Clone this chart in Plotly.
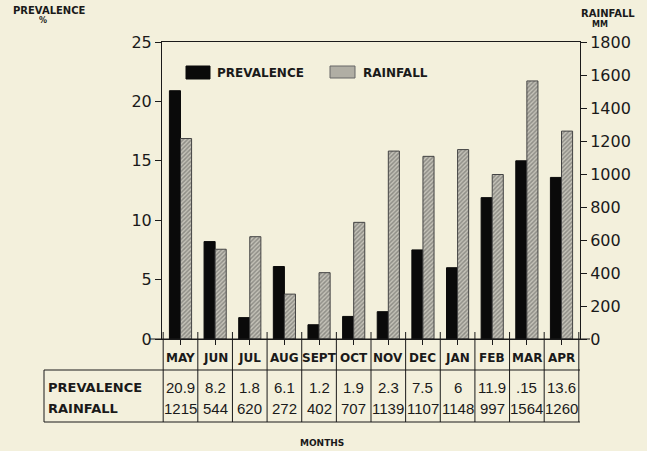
import plotly.graph_objects as go

months = ["MAY", "JUN", "JUL", "AUG", "SEPT", "OCT", "NOV", "DEC", "JAN", "FEB", "MAR", "APR"]
prevalence = [20.9, 8.2, 1.8, 6.1, 1.2, 1.9, 2.3, 7.5, 6, 11.9, 15, 13.6]
rainfall = [1215, 544, 620, 272, 402, 707, 1139, 1107, 1148, 997, 1564, 1260]
prev_labels = ["20.9", "8.2", "1.8", "6.1", "1.2", "1.9", "2.3", "7.5", "6", "11.9", ".15", "13.6"]
rain_labels = [str(v) for v in rainfall]
prev_ticks = [0, 5, 10, 15, 20, 25]
rain_ticks = [0, 200, 400, 600, 800, 1000, 1200, 1400, 1600, 1800]

W, H = 647, 451
L, R, T, B = 162, 580, 42, 339
BG = "#f3f0dc"
INK = "#1a1a1a"
FONT = "DejaVu Sans"


def py(p):  # pixel y -> paper y
    return (B - p) / (B - T)


def px(p):  # pixel x -> paper x
    return (p - L) / (R - L)


fig = go.Figure()
fig.add_trace(go.Bar(
    x=months, y=prevalence, name="PREVALENCE",
    marker=dict(color="#0a0a0a", line=dict(color="#0a0a0a", width=1)),
    offsetgroup="a", yaxis="y", showlegend=False,
))
fig.add_trace(go.Bar(
    x=months, y=rainfall, name="RAINFALL",
    marker=dict(color="#c4c2b8", line=dict(color="#444", width=1),
                pattern=dict(shape="/", fgcolor="#5a5a56", size=3, solidity=0.5)),
    offsetgroup="b", yaxis="y2", showlegend=False,
))

shapes = []
line = dict(color=INK, width=1)
# table grid
for i in range(len(months) + 1):
    shapes.append(dict(type="line", xref="x", yref="paper", x0=i - 0.5, x1=i - 0.5,
                       y0=py(332), y1=py(422), line=line))
for yy in (370, 422):
    shapes.append(dict(type="line", xref="paper", yref="paper", x0=px(44), x1=1,
                       y0=py(yy), y1=py(yy), line=line))
shapes.append(dict(type="line", xref="paper", yref="paper", x0=px(44), x1=px(44),
                   y0=py(370), y1=py(422), line=line))
# extended zero line
shapes.append(dict(type="line", xref="paper", yref="paper", x0=px(150), x1=px(590),
                   y0=0, y1=0, line=line))
# legend swatches
shapes.append(dict(type="rect", xref="paper", yref="paper", x0=px(186), x1=px(210),
                   y0=py(79), y1=py(66), fillcolor="#0a0a0a", line=dict(color="#0a0a0a", width=1)))
shapes.append(dict(type="rect", xref="paper", yref="paper", x0=px(330), x1=px(355),
                   y0=py(78), y1=py(66), fillcolor="#b0aea4", line=dict(color="#666", width=1)))

ann = []


def text(x, y, s, size, family=FONT, xanchor="center", xref="paper"):
    ann.append(dict(x=x, y=y, xref=xref, yref="paper", text=s, showarrow=False,
                    xanchor=xanchor, yanchor="middle",
                    font=dict(family=family, size=size, color=INK)))


for i, m in enumerate(months):
    text(m, py(358), "<b>%s</b>" % m, 12, xref="x")
    text(m, py(387), prev_labels[i], 15, family="Liberation Sans", xref="x")
    text(m, py(408), rain_labels[i], 15, family="Liberation Sans", xref="x")
text(px(46), py(387), "<b>PREVALENCE</b>", 13, xanchor="left")
text(px(46), py(408), "<b>RAINFALL</b>", 13, xanchor="left")
text(px(322), py(443), "<b>MONTHS</b>", 9)
text(px(11), py(10), "<b>PREVALENCE</b>", 10, xanchor="left")
text(px(43), py(21), "<b>%</b>", 8)
text(px(637), py(14), "<b>RAINFALL</b>", 10, xanchor="right")
text(px(600), py(25), "<b>MM</b>", 8)
text(px(215), py(73), "<b>PREVALENCE</b>", 12, xanchor="left")
text(px(361), py(73), "<b>RAINFALL</b>", 12, xanchor="left")

fig.update_layout(
    width=W, height=H,
    margin=dict(l=L, r=W - R, t=T, b=H - B, pad=0),
    paper_bgcolor=BG, plot_bgcolor=BG,
    barmode="group", bargap=0.36, bargroupgap=0,
    font=dict(family=FONT, color=INK),
    shapes=shapes, annotations=ann,
    xaxis=dict(showticklabels=False, ticks="outside", ticklen=5, tickcolor=INK,
               showgrid=False, showline=True,
               linecolor=INK, linewidth=1, mirror=True, zeroline=False),
    yaxis=dict(range=[0, 25], tickvals=prev_ticks, ticks="outside", ticklen=6,
               tickcolor=INK, showgrid=False, zeroline=False, showline=True,
               linecolor=INK, linewidth=1, tickfont=dict(family=FONT, size=16, color=INK)),
    yaxis2=dict(range=[0, 1800], tickvals=rain_ticks, overlaying="y", side="right",
                ticks="outside", ticklen=6, tickcolor=INK, showgrid=False, zeroline=False,
                showline=True, linecolor=INK, linewidth=1,
                tickfont=dict(family=FONT, size=16, color=INK)),
)

fig.write_html(
    "out.html",
    config={"displayModeBar": False},
    post_script="document.body.style.margin='0';document.body.style.background='%s';" % BG,
)
